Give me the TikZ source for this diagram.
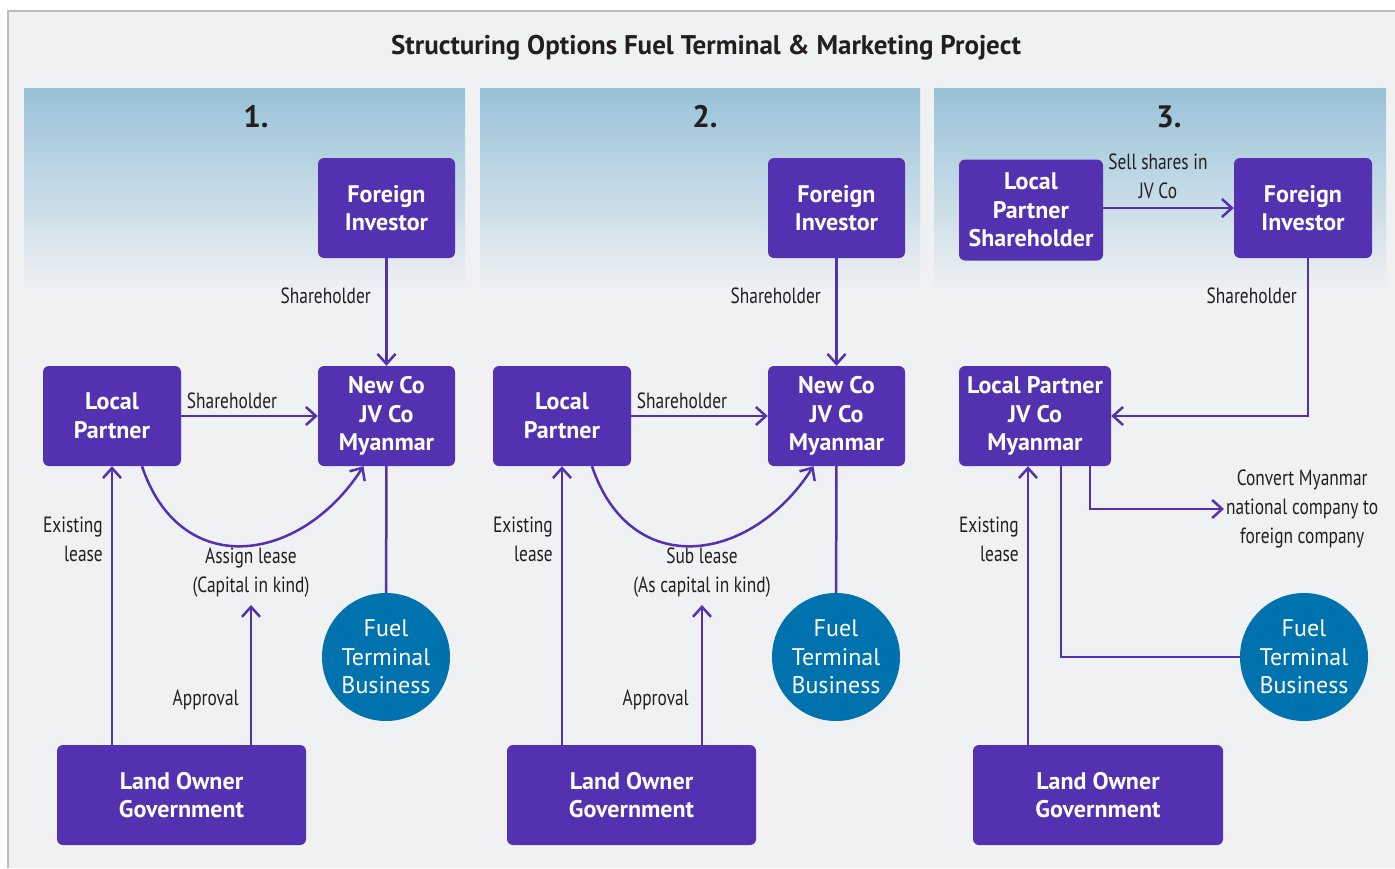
\documentclass[tikz,border=0pt]{standalone}
\usepackage{fontspec}
\setmainfont{PT Sans}
\newfontfamily\labelfont{PT Sans}[FakeStretch=0.79]
\usetikzlibrary{arrows.meta}

\definecolor{bg}{HTML}{EFF1F3}
\definecolor{panel}{HTML}{98C2D8}
\definecolor{boxpurple}{HTML}{5431B1}
\definecolor{circblue}{HTML}{0072AE}
\definecolor{framegray}{HTML}{BDBBBB}
\definecolor{ink}{HTML}{231F20}

\tikzset{
  box/.style={fill=boxpurple, rounded corners=6pt, text=white, inner sep=0pt,
    align=center, font=\bfseries\fontsize{24}{28.5}\selectfont},
  biz/.style={circle, fill=circblue, text=white, minimum size=128pt, inner sep=0pt,
    align=center, font=\fontsize{24}{28.5}\selectfont},
  lbl/.style={text=ink, inner sep=2pt, align=center,
    font=\labelfont\fontsize{22}{29}\selectfont},
  link/.style={draw=boxpurple, line width=2.5pt},
  arr/.style={link, -{Straight Barb[length=10pt, width=18pt]}},
  panelbg/.style={top color=panel, bottom color=bg, draw=none},
  num/.style={text=ink, font=\bfseries\fontsize{31}{34}\selectfont},
}

\begin{document}
\begin{tikzpicture}[x=1pt, y=-1pt]
% page and frame
\useasboundingbox (0,0) rectangle (1395,868);
\fill[white] (0,0) rectangle (1395,868);
\fill[bg] (8,11) rectangle (1395,868);
\draw[framegray, line width=2pt] (8,868) -- (8,11) -- (1395,11);

% title
\node[text=ink, font=\bfseries\fontsize{27}{30}\selectfont] (title) at (706,48)
  {Structuring Options Fuel Terminal \& Marketing Project};

% shaded column headers
\shade[panelbg] (24,88) rectangle (465,290);
\shade[panelbg] (480,88) rectangle (920,290);
\shade[panelbg] (934,88) rectangle (1386,290);

\node[num] (n1) at (256,117) {1.};
\node[num] (n2) at (705,117) {2.};
\node[num] (n3) at (1169,117) {3.};

% ---------- option 1 ----------
\node[box, minimum width=137pt, minimum height=100pt] (fi1) at (386.5,208) {Foreign\\Investor};
\node[box, minimum width=137pt, minimum height=100pt] (nc1) at (386.5,416) {New Co\\JV Co\\Myanmar};
\node[box, minimum width=138pt, minimum height=100pt] (lp1) at (112,416) {Local\\Partner};
\node[biz] (fb1) at (386,657) {Fuel\\Terminal\\Business};
\node[box, minimum width=249pt, minimum height=100pt] (lo1) at (181.5,795) {Land Owner\\Government};

\node[lbl, anchor=east] (sh1a) at (373,296) {Shareholder};
\node[lbl] (sh1b) at (232,401) {Shareholder};
\node[lbl, anchor=east, align=right] (el1) at (105,539) {Existing\\lease};
\node[lbl] (al1) at (251,573) {Assign lease\\(Capital in kind)};
\node[lbl, anchor=east] (ap1) at (241,700) {Approval};

\draw[arr] (fi1) -- (nc1);
\draw[arr] (lp1) -- (nc1);
\draw[arr] ([xshift=30pt]lp1.south) .. controls (180,580) and (300,565) .. ([xshift=-23pt]nc1.south);
\draw[link] (nc1) -- (fb1);
\draw[arr] (lo1.north -| lp1.south) -- (lp1.south);
\draw[arr] (lo1.north -| al1.south) -- ([yshift=-5pt]al1.south);

% ---------- option 2 ----------
\node[box, minimum width=137pt, minimum height=100pt] (fi2) at (836.5,208) {Foreign\\Investor};
\node[box, minimum width=137pt, minimum height=100pt] (nc2) at (836.5,416) {New Co\\JV Co\\Myanmar};
\node[box, minimum width=138pt, minimum height=100pt] (lp2) at (562,416) {Local\\Partner};
\node[biz] (fb2) at (836,657) {Fuel\\Terminal\\Business};
\node[box, minimum width=249pt, minimum height=100pt] (lo2) at (631.5,795) {Land Owner\\Government};

\node[lbl, anchor=east] (sh2a) at (823,296) {Shareholder};
\node[lbl] (sh2b) at (682,401) {Shareholder};
\node[lbl, anchor=east, align=right] (el2) at (555,539) {Existing\\lease};
\node[lbl] (sl2) at (702,573) {Sub lease\\(As capital in kind)};
\node[lbl, anchor=east] (ap2) at (691,700) {Approval};

\draw[arr] (fi2) -- (nc2);
\draw[arr] (lp2) -- (nc2);
\draw[arr] ([xshift=30pt]lp2.south) .. controls (630,580) and (750,565) .. ([xshift=-23pt]nc2.south);
\draw[link] (nc2) -- (fb2);
\draw[arr] (lo2.north -| lp2.south) -- (lp2.south);
\draw[arr] (lo2.north -| sl2.south) -- ([yshift=-5pt]sl2.south);

% ---------- option 3 ----------
\node[box, minimum width=144pt, minimum height=101pt] (lps3) at (1031,210) {Local\\Partner\\Shareholder};
\node[box, minimum width=138pt, minimum height=100pt] (fi3) at (1303,208) {Foreign\\Investor};
\node[box, minimum width=152pt, minimum height=100pt] (jv3) at (1035,416) {Local Partner\\JV Co\\Myanmar};
\node[biz] (fb3) at (1304,657) {Fuel\\Terminal\\Business};
\node[box, minimum width=250pt, minimum height=100pt] (lo3) at (1098,795) {Land Owner\\Government};

\node[lbl] (ss3) at (1158,176) {Sell shares in\\JV Co};
\node[lbl, anchor=east] (sh3) at (1299,296) {Shareholder};
\node[lbl, anchor=east, align=right] (el3) at (1021,539) {Existing\\lease};
\node[lbl, anchor=west] (cv3) at (1224,509) {Convert Myanmar\\national company to\\foreign company};

\draw[arr] (lps3.east |- fi3.west) -- (fi3.west);
\draw[arr] ([xshift=5pt]fi3.south) |- (jv3.east);
\draw[arr] ([xshift=55pt]jv3.south) |- (cv3.west);
\draw[link] ([xshift=26pt]jv3.south) |- (fb3.west);
\draw[arr] ([xshift=-70pt]lo3.north) -- ([xshift=-7pt]jv3.south);
\end{tikzpicture}
\end{document}
